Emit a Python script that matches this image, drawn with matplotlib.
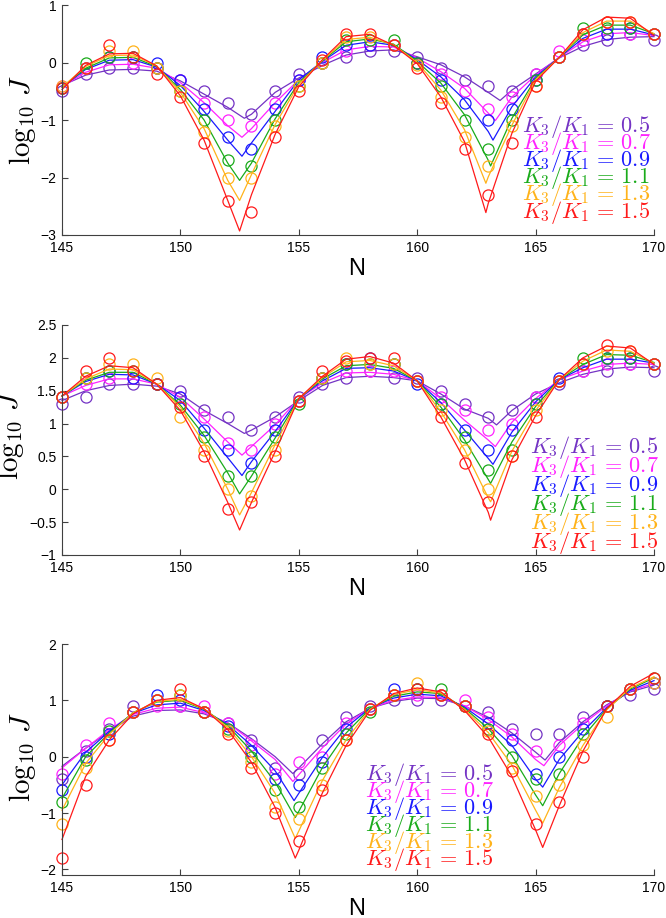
import matplotlib
matplotlib.use("Agg")
import matplotlib.pyplot as plt

plt.rcParams['mathtext.fontset'] = 'cm'
plt.rcParams['font.family'] = ['Liberation Sans', 'DejaVu Sans']

# ---------------- data ----------------
N = [145, 146, 147, 148, 149, 150, 151, 152, 153, 154, 155, 156, 157,
     158, 159, 160, 161, 162, 163, 164, 165, 166, 167, 168, 169, 170]
ratio_labels = ['0.5', '0.7', '0.9', '1.1', '1.3', '1.5']
colors = ['#7433c4', '#ff22ff', '#1a1aff', '#1aab1a', '#ffb31a', '#ff1a1a']

# Panel 1: measured points (circles), order of ratio_labels
p1_points = [
    [-0.5, -0.2, -0.1, -0.1, -0.1, -0.3, -0.5, -0.7, -0.9, -0.5, -0.2, 0.0, 0.1, 0.2, 0.2, 0.1, -0.1, -0.3, -0.4, -0.5, -0.2, 0.1, 0.3, 0.4, 0.5, 0.4],
    [-0.4, -0.1, 0.1, 0.0, -0.1, -0.3, -0.7, -1.0, -1.1, -0.7, -0.3, 0.0, 0.2, 0.3, 0.3, 0.0, -0.2, -0.5, -0.8, -0.6, -0.2, 0.2, 0.4, 0.5, 0.5, 0.5],
    [-0.45, -0.1, 0.1, 0.1, 0.0, -0.3, -0.8, -1.3, -1.5, -0.8, -0.3, 0.1, 0.3, 0.3, 0.3, 0.0, -0.3, -0.7, -1.0, -0.8, -0.3, 0.1, 0.5, 0.5, 0.6, 0.5],
    [-0.45, 0.0, 0.1, 0.1, -0.1, -0.5, -1.0, -1.7, -1.8, -1.0, -0.4, 0.0, 0.4, 0.4, 0.4, 0.0, -0.4, -1.0, -1.5, -1.0, -0.3, 0.1, 0.6, 0.6, 0.6, 0.5],
    [-0.4, -0.1, 0.2, 0.2, -0.1, -0.5, -1.2, -2.0, -2.0, -1.1, -0.4, 0.0, 0.45, 0.45, 0.3, -0.05, -0.6, -1.3, -1.8, -1.1, -0.4, 0.1, 0.5, 0.7, 0.7, 0.5],
    [-0.45, -0.1, 0.3, 0.1, -0.2, -0.6, -1.4, -2.4, -2.6, -1.3, -0.5, 0.05, 0.5, 0.5, 0.3, -0.1, -0.7, -1.5, -2.3, -1.4, -0.4, 0.1, 0.5, 0.7, 0.7, 0.5],
]
# Panel 1: fitted curves at integer N, plus the two cusps of each curve
p1_fit = [
    [-0.40, -0.22, -0.13, -0.12, -0.15, -0.32, -0.55, -0.78, -0.90, -0.52, -0.27, -0.05, 0.13, 0.20, 0.22, 0.10, -0.04, -0.25, -0.52, -0.48, -0.20, 0.08, 0.28, 0.40, 0.44, 0.45],
    [-0.42, -0.17, -0.04, -0.03, -0.10, -0.35, -0.70, -1.10, -1.15, -0.70, -0.30, 0.00, 0.22, 0.28, 0.27, 0.08, -0.16, -0.45, -0.88, -0.60, -0.22, 0.09, 0.36, 0.50, 0.52, 0.47],
    [-0.43, -0.12, 0.04, 0.05, -0.08, -0.40, -0.85, -1.35, -1.40, -0.85, -0.30, 0.02, 0.30, 0.36, 0.30, 0.05, -0.25, -0.65, -1.20, -0.77, -0.25, 0.09, 0.42, 0.58, 0.58, 0.48],
    [-0.43, -0.10, 0.08, 0.09, -0.07, -0.47, -1.00, -1.75, -1.75, -0.98, -0.35, 0.03, 0.36, 0.41, 0.32, 0.02, -0.36, -0.91, -1.70, -0.97, -0.28, 0.09, 0.48, 0.65, 0.65, 0.50],
    [-0.43, -0.07, 0.12, 0.13, -0.06, -0.52, -1.15, -2.05, -1.95, -1.08, -0.38, 0.04, 0.40, 0.44, 0.31, 0.00, -0.48, -1.17, -1.99, -1.09, -0.30, 0.09, 0.52, 0.72, 0.72, 0.50],
    [-0.47, -0.05, 0.15, 0.16, -0.06, -0.58, -1.35, -2.40, -2.30, -1.25, -0.42, 0.05, 0.45, 0.49, 0.30, -0.02, -0.60, -1.38, -2.45, -1.23, -0.33, 0.09, 0.57, 0.79, 0.77, 0.47],
]
p1_cusp_N = [[152.7, 163.5], [152.6, 163.3], [152.6, 163.2], [152.5, 163.1], [152.5, 162.9], [152.5, 162.9]]
p1_cusp_J = [[-0.97, -0.66], [-1.30, -1.01], [-1.63, -1.35], [-2.05, -1.80], [-2.40, -2.10], [-2.93, -2.61]]

# Panel 2
p2_points = [
    [1.3, 1.4, 1.6, 1.6, 1.6, 1.5, 1.2, 1.1, 0.9, 1.1, 1.4, 1.6, 1.7, 1.8, 1.7, 1.7, 1.5, 1.3, 1.1, 1.2, 1.4, 1.6, 1.8, 1.8, 1.9, 1.8],
    [1.4, 1.6, 1.7, 1.7, 1.6, 1.4, 1.1, 0.7, 0.6, 1.0, 1.35, 1.7, 1.8, 1.8, 1.8, 1.65, 1.4, 1.2, 0.9, 1.0, 1.4, 1.65, 1.8, 1.9, 1.9, 1.9],
    [1.4, 1.7, 1.8, 1.7, 1.6, 1.4, 0.9, 0.6, 0.4, 0.9, 1.35, 1.7, 1.9, 2.0, 1.9, 1.6, 1.3, 0.9, 0.6, 0.9, 1.3, 1.7, 1.9, 2.0, 2.0, 1.9],
    [1.4, 1.7, 1.8, 1.8, 1.6, 1.3, 0.8, 0.2, 0.2, 0.8, 1.3, 1.7, 1.9, 1.9, 1.9, 1.65, 1.3, 0.8, 0.3, 0.6, 1.3, 1.65, 2.0, 2.0, 2.0, 1.9],
    [1.4, 1.7, 1.9, 1.9, 1.7, 1.1, 0.6, 0.0, -0.1, 0.6, 1.35, 1.7, 2.0, 1.9, 1.9, 1.65, 1.2, 0.6, 0.0, 0.5, 1.2, 1.65, 1.9, 2.1, 2.1, 1.9],
    [1.4, 1.8, 2.0, 1.8, 1.6, 1.25, 0.5, -0.3, -0.2, 0.5, 1.35, 1.8, 1.95, 2.0, 2.0, 1.65, 1.1, 0.4, -0.2, 0.5, 1.1, 1.65, 1.9, 2.2, 2.1, 1.9],
]
p2_fit = [
    [1.35, 1.50, 1.58, 1.60, 1.57, 1.45, 1.20, 1.00, 0.90, 1.10, 1.35, 1.58, 1.70, 1.72, 1.70, 1.65, 1.45, 1.22, 1.08, 1.20, 1.45, 1.62, 1.75, 1.83, 1.86, 1.85],
    [1.42, 1.58, 1.68, 1.68, 1.60, 1.40, 1.07, 0.72, 0.65, 0.98, 1.38, 1.62, 1.77, 1.78, 1.75, 1.65, 1.38, 1.05, 0.75, 1.02, 1.38, 1.67, 1.80, 1.90, 1.92, 1.90],
    [1.42, 1.64, 1.75, 1.74, 1.60, 1.35, 0.93, 0.48, 0.42, 0.88, 1.38, 1.65, 1.84, 1.85, 1.80, 1.65, 1.32, 0.90, 0.47, 0.87, 1.33, 1.67, 1.85, 1.98, 1.98, 1.92],
    [1.42, 1.66, 1.78, 1.78, 1.60, 1.28, 0.82, 0.25, 0.20, 0.78, 1.38, 1.68, 1.88, 1.90, 1.84, 1.65, 1.25, 0.75, 0.15, 0.72, 1.26, 1.67, 1.90, 2.05, 2.04, 1.93],
    [1.42, 1.68, 1.83, 1.82, 1.60, 1.25, 0.70, 0.00, -0.05, 0.68, 1.38, 1.70, 1.94, 1.96, 1.88, 1.65, 1.18, 0.60, -0.13, 0.58, 1.20, 1.67, 1.95, 2.12, 2.10, 1.92],
    [1.42, 1.72, 1.88, 1.85, 1.60, 1.20, 0.57, -0.20, -0.20, 0.57, 1.38, 1.72, 1.98, 2.02, 1.92, 1.65, 1.10, 0.45, -0.35, 0.45, 1.12, 1.67, 2.00, 2.18, 2.15, 1.90],
]
p2_cusp_N = [[152.7, 163.35], [152.6, 163.3], [152.6, 163.2], [152.5, 163.1], [152.5, 163.1], [152.5, 163.1]]
p2_cusp_J = [[0.85, 0.98], [0.52, 0.65], [0.21, 0.38], [-0.07, 0.09], [-0.39, -0.19], [-0.62, -0.47]]

# Panel 3
p3_points = [
    [-0.4, 0.1, 0.5, 0.9, 1.0, 0.9, 0.8, 0.6, 0.3, -0.2, -0.3, 0.3, 0.7, 0.9, 1.0, 1.0, 1.0, 0.9, 0.8, 0.5, 0.4, 0.4, 0.7, 0.9, 1.1, 1.2],
    [-0.3, 0.2, 0.6, 0.8, 0.9, 0.9, 0.9, 0.6, 0.2, -0.3, -0.1, 0.0, 0.6, 0.85, 1.1, 1.1, 1.1, 1.0, 0.7, 0.4, 0.1, 0.2, 0.6, 0.9, 1.2, 1.3],
    [-0.6, 0.0, 0.4, 0.8, 1.1, 1.0, 0.8, 0.55, 0.1, -0.4, -0.5, -0.1, 0.5, 0.85, 1.2, 1.2, 1.1, 0.9, 0.6, 0.3, -0.3, 0.0, 0.5, 0.9, 1.2, 1.3],
    [-0.8, -0.05, 0.45, 0.8, 1.0, 1.1, 0.8, 0.5, 0.0, -0.6, -0.9, -0.2, 0.4, 0.8, 1.1, 1.2, 1.2, 0.9, 0.5, 0.0, -0.4, -0.3, 0.4, 0.9, 1.2, 1.4],
    [-1.2, -0.2, 0.3, 0.8, 1.0, 1.1, 0.8, 0.45, -0.1, -0.9, -1.1, -0.5, 0.3, 0.85, 1.1, 1.3, 1.1, 0.9, 0.45, -0.2, -0.7, -0.5, 0.2, 0.7, 1.2, 1.3],
    [-1.8, -0.5, 0.3, 0.8, 1.0, 1.2, 0.8, 0.4, -0.2, -1.0, -1.5, -0.6, 0.3, 0.85, 1.1, 1.2, 1.1, 0.9, 0.4, -0.25, -1.2, -0.8, 0.0, 0.9, 1.2, 1.4],
]
p3_fit = [
    [-0.17, 0.15, 0.45, 0.72, 0.82, 0.83, 0.76, 0.60, 0.32, 0.00, -0.20, 0.23, 0.62, 0.86, 0.98, 1.04, 1.03, 0.90, 0.70, 0.42, 0.08, 0.25, 0.62, 0.92, 1.15, 1.27],
    [-0.20, 0.15, 0.48, 0.75, 0.86, 0.88, 0.78, 0.60, 0.28, -0.05, -0.32, 0.16, 0.58, 0.86, 1.00, 1.06, 1.05, 0.90, 0.66, 0.35, -0.05, 0.20, 0.58, 0.90, 1.17, 1.30],
    [-0.50, 0.08, 0.45, 0.77, 0.92, 0.95, 0.82, 0.57, 0.20, -0.25, -0.65, -0.01, 0.52, 0.86, 1.04, 1.11, 1.08, 0.88, 0.58, 0.20, -0.40, -0.05, 0.45, 0.87, 1.18, 1.35],
    [-0.74, 0.00, 0.42, 0.78, 0.97, 1.00, 0.84, 0.55, 0.10, -0.45, -0.97, -0.19, 0.42, 0.85, 1.07, 1.15, 1.12, 0.86, 0.50, 0.02, -0.68, -0.30, 0.35, 0.85, 1.20, 1.40],
    [-0.95, -0.12, 0.40, 0.78, 0.98, 1.02, 0.85, 0.52, 0.00, -0.65, -1.32, -0.42, 0.30, 0.84, 1.10, 1.19, 1.13, 0.84, 0.43, -0.15, -0.95, -0.55, 0.20, 0.83, 1.22, 1.42],
    [-1.47, -0.35, 0.30, 0.76, 1.00, 1.05, 0.85, 0.48, -0.10, -0.90, -1.66, -0.64, 0.20, 0.82, 1.12, 1.22, 1.15, 0.82, 0.35, -0.35, -1.30, -0.87, 0.10, 0.85, 1.25, 1.48],
]
p3_cusp_N = [[154.75, 165.4], [154.75, 165.35], [154.8, 165.3], [154.85, 165.3], [154.85, 165.3], [154.85, 165.3]]
p3_cusp_J = [[-0.30, -0.06], [-0.44, -0.16], [-0.78, -0.54], [-1.08, -0.87], [-1.45, -1.18], [-1.80, -1.61]]

x_ticks = [145, 150, 155, 160, 165, 170]
p1_yticks = [-3, -2, -1, 0, 1]
p1_yticklabels = ['\u22123', '\u22122', '\u22121', '0', '1']
p2_yticks = [-1, -0.5, 0, 0.5, 1, 1.5, 2, 2.5]
p2_yticklabels = ['\u22121', '\u22120.5', '0', '0.5', '1', '1.5', '2', '2.5']
p3_yticks = [-2, -1, 0, 1, 2]
p3_yticklabels = ['\u22122', '\u22121', '0', '1', '2']

# ---------------- figure ----------------
W, H = 666, 918
fig = plt.figure(figsize=(W / 100, H / 100), dpi=100)

def fx(px):
    return px / W

def fy(py):
    return 1 - py / H

panels = [
    dict(top=5, bottom=235, ylim=(-3, 1), yt=p1_yticks, ytl=p1_yticklabels,
         pts=p1_points, fit=p1_fit, cN=p1_cusp_N, cJ=p1_cusp_J,
         leg_x=522, leg_y0=126, leg_dy=17.2, ylab_x=22, ylab_y=120),
    dict(top=325, bottom=555, ylim=(-1, 2.5), yt=p2_yticks, ytl=p2_yticklabels,
         pts=p2_points, fit=p2_fit, cN=p2_cusp_N, cJ=p2_cusp_J,
         leg_x=530, leg_y0=447, leg_dy=19.2, ylab_x=11, ylab_y=435),
    dict(top=644, bottom=875, ylim=(-2.1, 2), yt=p3_yticks, ytl=p3_yticklabels,
         pts=p3_points, fit=p3_fit, cN=p3_cusp_N, cJ=p3_cusp_J,
         leg_x=365, leg_y0=775, leg_dy=16.9, ylab_x=22, ylab_y=757),
]

left_px, right_px = 62, 654
for p in panels:
    ax = fig.add_axes([fx(left_px), fy(p['bottom']), fx(right_px - left_px),
                       (p['bottom'] - p['top']) / H])
    for i, c in enumerate(colors):
        xs = list(N) + list(p['cN'][i])
        ys = list(p['fit'][i]) + list(p['cJ'][i])
        order = sorted(range(len(xs)), key=lambda k: xs[k])
        ax.plot([xs[k] for k in order], [ys[k] for k in order], color=c, lw=0.9,
                clip_on=False)
        ax.plot(N, p['pts'][i], linestyle='none', marker='o', ms=8,
                mfc='none', mec=c, mew=0.9, clip_on=False)
    ax.set_xlim(145, 170)
    ax.set_ylim(*p['ylim'])
    ax.set_xticks(x_ticks)
    ax.set_xticklabels([str(t) for t in x_ticks])
    ax.set_yticks(p['yt'])
    ax.set_yticklabels(p['ytl'])
    for s in ['top', 'right']:
        ax.spines[s].set_visible(False)
    for s in ['left', 'bottom']:
        ax.spines[s].set_color('#404040')
        ax.spines[s].set_linewidth(0.8)
    ax.tick_params(direction='in', length=4, width=0.8, color='#404040',
                   labelsize=10, pad=4)
    ax.patch.set_alpha(0)
    for i, c in enumerate(colors):
        fig.text(fx(p['leg_x']), fy(p['leg_y0'] + i * p['leg_dy']),
                 r'$K_3/K_1\,=\,' + ratio_labels[i] + '$', color=c,
                 fontsize=16, ha='left', va='center')
    fig.text(fx(p['ylab_x']), fy(p['ylab_y']), r'$\log_{10}\,J$', rotation=90,
             fontsize=21, ha='center', va='center')
    fig.text(fx(357), fy(p['bottom'] + 34), 'N', fontsize=17, ha='center',
             va='center')

fig.savefig('out.png', dpi=100)
